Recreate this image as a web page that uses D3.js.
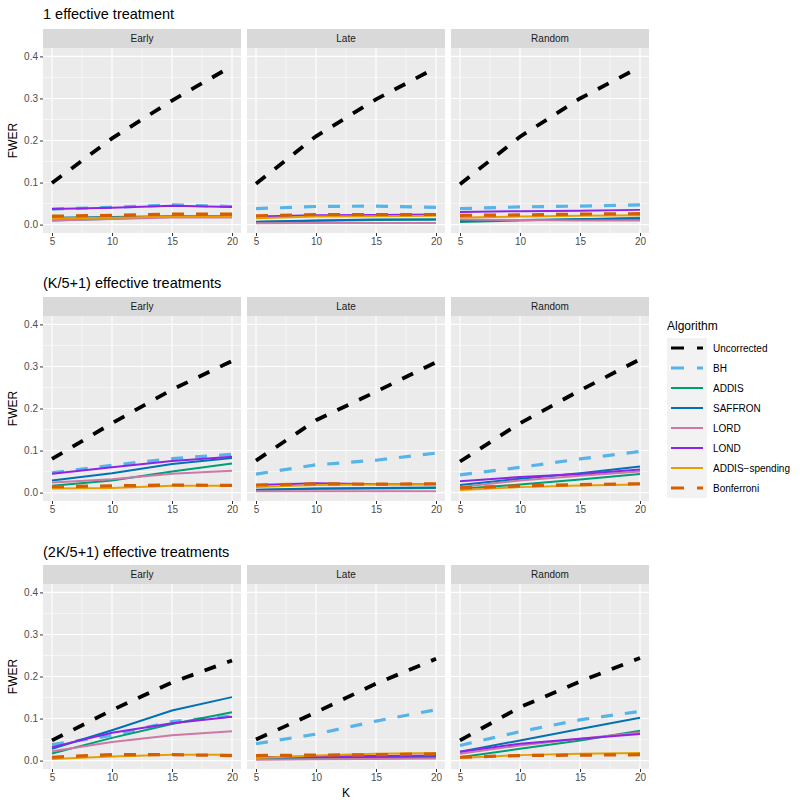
<!DOCTYPE html>
<html>
<head>
<meta charset="utf-8">
<script src="https://cdn.jsdelivr.net/npm/d3@7"></script>
<style>
  html, body { margin:0; padding:0; background:#fff; }
  svg { font-family: "Liberation Sans", Arial, sans-serif; }
</style>
</head>
<body>
<svg id="chart" width="800" height="804"></svg>
<script>
// x values and labels
const K = [5, 10, 15, 20];
const xTicks = [5, 10, 15, 20];
const yTicks = [0, 0.1, 0.2, 0.3, 0.4];
const positions = ["Early", "Late", "Random"];
const rowTitles = ["1 effective treatment", "(K/5+1) effective treatments", "(2K/5+1) effective treatments"];
const algorithms = ["Uncorrected", "BH", "ADDIS", "SAFFRON", "LORD", "LOND", "ADDIS\u2212spending", "Bonferroni"];
const algoColors = ["#000000", "#56B4E9", "#009E73", "#0072B2", "#CC79A7", "#8E24E8", "#E69F00", "#D55E00"];

// FWER values, one array per algorithm (same order as `algorithms`), per panel
const r1Early = [
  [0.099, 0.205, 0.295, 0.377],
  [0.037, 0.041, 0.047, 0.043],
  [0.010, 0.014, 0.019, 0.019],
  [0.016, 0.018, 0.020, 0.020],
  [0.010, 0.013, 0.017, 0.017],
  [0.037, 0.040, 0.045, 0.042],
  [0.015, 0.016, 0.019, 0.019],
  [0.020, 0.022, 0.025, 0.025]
];
const r1Late = [
  [0.097, 0.210, 0.298, 0.373],
  [0.038, 0.043, 0.044, 0.041],
  [0.006, 0.009, 0.011, 0.012],
  [0.007, 0.010, 0.012, 0.012],
  [0.003, 0.004, 0.004, 0.004],
  [0.019, 0.022, 0.023, 0.024],
  [0.015, 0.019, 0.020, 0.021],
  [0.021, 0.024, 0.024, 0.024]
];
const r1Random = [
  [0.096, 0.209, 0.300, 0.375],
  [0.038, 0.042, 0.044, 0.047],
  [0.006, 0.010, 0.013, 0.016],
  [0.009, 0.011, 0.013, 0.014],
  [0.012, 0.011, 0.010, 0.010],
  [0.030, 0.032, 0.033, 0.035],
  [0.017, 0.019, 0.021, 0.022],
  [0.022, 0.023, 0.025, 0.026]
];
const r2Early = [
  [0.080, 0.165, 0.245, 0.313],
  [0.047, 0.065, 0.081, 0.091],
  [0.016, 0.029, 0.050, 0.069],
  [0.029, 0.046, 0.068, 0.082],
  [0.024, 0.032, 0.045, 0.052],
  [0.045, 0.060, 0.075, 0.085],
  [0.010, 0.011, 0.016, 0.016],
  [0.014, 0.016, 0.018, 0.017]
];
const r2Late = [
  [0.076, 0.172, 0.240, 0.310],
  [0.044, 0.066, 0.077, 0.094],
  [0.006, 0.009, 0.010, 0.011],
  [0.007, 0.010, 0.011, 0.012],
  [0.003, 0.003, 0.003, 0.003],
  [0.018, 0.022, 0.020, 0.020],
  [0.013, 0.018, 0.019, 0.020],
  [0.018, 0.021, 0.020, 0.021]
];
const r2Random = [
  [0.074, 0.165, 0.243, 0.317],
  [0.042, 0.060, 0.080, 0.098],
  [0.009, 0.019, 0.031, 0.044],
  [0.018, 0.033, 0.046, 0.062],
  [0.013, 0.029, 0.040, 0.050],
  [0.027, 0.037, 0.044, 0.055],
  [0.006, 0.013, 0.017, 0.019],
  [0.011, 0.016, 0.019, 0.021]
];
const r3Early = [
  [0.048, 0.120, 0.186, 0.238],
  [0.038, 0.060, 0.093, 0.106],
  [0.017, 0.054, 0.087, 0.115],
  [0.028, 0.072, 0.119, 0.151],
  [0.022, 0.044, 0.060, 0.070],
  [0.032, 0.066, 0.089, 0.104],
  [0.004, 0.010, 0.014, 0.014],
  [0.008, 0.014, 0.014, 0.012]
];
const r3Late = [
  [0.050, 0.115, 0.183, 0.242],
  [0.040, 0.063, 0.094, 0.121],
  [0.004, 0.005, 0.007, 0.008],
  [0.006, 0.008, 0.009, 0.010],
  [0.002, 0.003, 0.004, 0.005],
  [0.008, 0.010, 0.011, 0.012],
  [0.006, 0.012, 0.016, 0.018],
  [0.012, 0.013, 0.014, 0.016]
];
const r3Random = [
  [0.048, 0.127, 0.188, 0.244],
  [0.036, 0.069, 0.097, 0.117],
  [0.008, 0.028, 0.048, 0.071],
  [0.021, 0.048, 0.075, 0.102],
  [0.016, 0.036, 0.052, 0.067],
  [0.021, 0.040, 0.052, 0.063],
  [0.006, 0.013, 0.016, 0.018],
  [0.008, 0.012, 0.013, 0.014]
];
const rowsData = [[r1Early, r1Late, r1Random], [r2Early, r2Late, r2Random], [r3Early, r3Late, r3Random]];

// line styling per algorithm
const dashed = { "Uncorrected": true, "BH": true, "Bonferroni": true };
const lineWidth = name => name === "Uncorrected" ? 3.8 : (dashed[name] ? 3.2 : 2);

const svg = d3.select("#chart");
const panelX = [43, 247, 451], panelW = 198;
const panelTop = [48, 316, 584], panelH = 185, stripH = 19;
const titleY = [19, 288, 557];

const x = d3.scaleLinear().domain([4.25, 20.75]).range([0, panelW]);
const y = d3.scaleLinear().domain([-0.02, 0.42]).range([panelH, 0]);
const line = d3.line().x((d, i) => x(K[i])).y(d => y(d));

rowsData.forEach((panels, r) => {
  svg.append("text").attr("x", 43).attr("y", titleY[r])
    .attr("font-size", 14.5).attr("fill", "#000").text(rowTitles[r]);

  // y axis label
  svg.append("text")
    .attr("transform", `translate(17,${panelTop[r] + panelH / 2}) rotate(-90)`)
    .attr("text-anchor", "middle").attr("font-size", 12).attr("fill", "#000").text("FWER");

  panels.forEach((vals, p) => {
    const g = svg.append("g").attr("transform", `translate(${panelX[p]},${panelTop[r]})`);
    // strip
    g.append("rect").attr("x", 0).attr("y", -stripH).attr("width", panelW).attr("height", stripH).attr("fill", "#d9d9d9");
    g.append("text").attr("x", panelW / 2).attr("y", -stripH / 2 + 3.5).attr("text-anchor", "middle")
      .attr("font-size", 10).attr("fill", "#1a1a1a").text(positions[p]);
    // panel bg
    g.append("rect").attr("width", panelW).attr("height", panelH).attr("fill", "#ebebeb");
    // minor grid
    [7.5, 12.5, 17.5].forEach(v => g.append("line").attr("x1", x(v)).attr("x2", x(v)).attr("y1", 0).attr("y2", panelH)
      .attr("stroke", "#fff").attr("stroke-width", 0.55));
    [0.05, 0.15, 0.25, 0.35].forEach(v => g.append("line").attr("y1", y(v)).attr("y2", y(v)).attr("x1", 0).attr("x2", panelW)
      .attr("stroke", "#fff").attr("stroke-width", 0.55));
    // major grid
    xTicks.forEach(v => g.append("line").attr("x1", x(v)).attr("x2", x(v)).attr("y1", 0).attr("y2", panelH)
      .attr("stroke", "#fff").attr("stroke-width", 1.1));
    yTicks.forEach(v => g.append("line").attr("y1", y(v)).attr("y2", y(v)).attr("x1", 0).attr("x2", panelW)
      .attr("stroke", "#fff").attr("stroke-width", 1.1));

    // series
    vals.forEach((s, i) => {
      const name = algorithms[i];
      g.append("path").attr("d", line(s)).attr("fill", "none")
        .attr("stroke", algoColors[i]).attr("stroke-width", lineWidth(name))
        .attr("stroke-dasharray", dashed[name] ? "12,12" : null);
    });

    // x axis
    const ax = g.append("g").attr("transform", `translate(0,${panelH})`)
      .call(d3.axisBottom(x).tickValues(xTicks).tickSize(3).tickPadding(2));
    ax.select(".domain").remove();
    ax.selectAll("line").attr("stroke", "#333");
    ax.selectAll("text").attr("fill", "#4d4d4d").attr("font-size", 10).attr("font-family", "Liberation Sans, Arial, sans-serif");

    if (p === 0) {
      const ay = g.append("g").call(d3.axisLeft(y).tickValues(yTicks).tickFormat(d3.format(".1f")).tickSize(3).tickPadding(2));
      ay.select(".domain").remove();
      ay.selectAll("line").attr("stroke", "#333");
      ay.selectAll("text").attr("fill", "#4d4d4d").attr("font-size", 10).attr("font-family", "Liberation Sans, Arial, sans-serif");
    }
  });
});

// x axis title
svg.append("text").attr("x", panelX[1] + panelW / 2).attr("y", 797).attr("text-anchor", "middle")
  .attr("font-size", 12).attr("fill", "#000").text("K");

// legend
const lg = svg.append("g").attr("transform", "translate(667,330)");
lg.append("text").attr("x", 0).attr("y", 0).attr("font-size", 12).attr("fill", "#000").text("Algorithm");
const keyH = 20, keyTop = 8;
lg.append("rect").attr("x", 0).attr("y", keyTop).attr("width", 40).attr("height", keyH * algorithms.length).attr("fill", "#f2f2f2");
algorithms.forEach((name, i) => {
  const cy = keyTop + keyH * i + keyH / 2;
  lg.append("line").attr("x1", 4).attr("x2", 36).attr("y1", cy).attr("y2", cy)
    .attr("stroke", algoColors[i]).attr("stroke-width", dashed[name] ? 3 : 2)
    .attr("stroke-dasharray", dashed[name] ? "13,13" : null);
  lg.append("text").attr("x", 46).attr("y", cy + 3.5).attr("font-size", 10).attr("fill", "#000").text(name);
});
</script>
</body>
</html>
